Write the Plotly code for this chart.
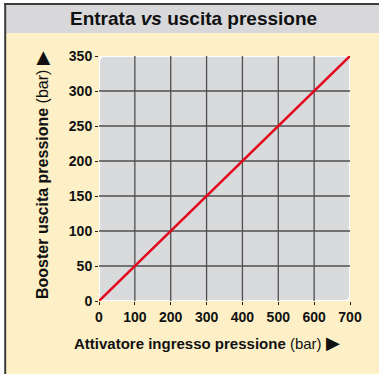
import plotly.graph_objects as go

# Input vs output pressure of the booster (bar)
ingresso = [0, 700]
uscita = [0, 350]

x_ticks = [0, 100, 200, 300, 400, 500, 600, 700]
y_ticks = [0, 50, 100, 150, 200, 250, 300, 350]
x_grid = [100, 200, 300, 400, 500, 600]
y_grid = [50, 100, 150, 200, 250, 300]

W, H = 379, 374
ML, MR, MT, MB = 99, 29, 56, 73
PW, PH = W - ML - MR, H - MT - MB

FONT = "Liberation Sans, Arial, sans-serif"
CREAM = "#fdf0c6"
BAND = "#d8d8da"
FRAME = "#3c3c3c"
PLOT_FILL = "#d9dadc"
GRID = "#4f4f4f"
RED = "#e3061d"


def px(x):
    return (x - ML) / PW


def py(y):
    return (H - MB - y) / PH


fig = go.Figure()
fig.add_trace(go.Scatter(
    x=ingresso, y=uscita, mode="lines",
    line=dict(color=RED, width=2.5), hoverinfo="skip", showlegend=False,
))

shapes = []
# white margin, title band and frame lines
shapes.append(dict(type="rect", xref="paper", yref="paper", layer="below",
                   x0=px(0), x1=px(W), y0=py(0), y1=py(3.5),
                   fillcolor="white", line=dict(width=0)))
shapes.append(dict(type="rect", xref="paper", yref="paper", layer="below",
                   x0=px(0), x1=px(4.5), y0=py(0), y1=py(H),
                   fillcolor="white", line=dict(width=0)))
shapes.append(dict(type="rect", xref="paper", yref="paper", layer="below",
                   x0=px(5), x1=px(W), y0=py(4), y1=py(33),
                   fillcolor=BAND, line=dict(width=0)))
shapes.append(dict(type="line", xref="paper", yref="paper",
                   x0=px(4), x1=px(W), y0=py(4), y1=py(4),
                   line=dict(color=FRAME, width=2)))
shapes.append(dict(type="line", xref="paper", yref="paper",
                   x0=px(5.2), x1=px(5.2), y0=py(3), y1=py(H),
                   line=dict(color=FRAME, width=2)))

# rounded grey plotting panel with white rim
rx, ry = 16, 8
x0, x1, y0, y1 = ingresso[0], ingresso[-1], uscita[0], uscita[-1]
path = (f"M {x0 + rx},{y0} L {x1 - rx},{y0} Q {x1},{y0} {x1},{y0 + ry} "
        f"L {x1},{y1 - ry} Q {x1},{y1} {x1 - rx},{y1} "
        f"L {x0 + rx},{y1} Q {x0},{y1} {x0},{y1 - ry} "
        f"L {x0},{y0 + ry} Q {x0},{y0} {x0 + rx},{y0} Z")
shapes.append(dict(type="path", xref="x", yref="y", layer="below", path=path,
                   fillcolor=PLOT_FILL, line=dict(color="white", width=2.2)))

# grid lines
for v in x_grid:
    shapes.append(dict(type="line", xref="x", yref="y", layer="below",
                       x0=v, x1=v, y0=0, y1=350,
                       line=dict(color=GRID, width=1.3)))
for v in y_grid:
    shapes.append(dict(type="line", xref="x", yref="y", layer="below",
                       x0=0, x1=700, y0=v, y1=v,
                       line=dict(color=GRID, width=1.3)))

# the y title is rotated -90°, so a right-pointing arrow ends up pointing up
annotations = [
    dict(text="<b>Entrata <i>vs</i> uscita pressione</b>", xref="paper", yref="paper",
         x=px(193), y=py(18.5), xanchor="center", yanchor="middle", showarrow=False,
         font=dict(family=FONT, size=19, color="#111")),
    dict(text="<b>Booster uscita pressione</b> (bar) <span style='font-size:18px'>▶</span>",
         xref="paper", yref="paper",
         x=px(42), y=py(175), xanchor="center", yanchor="middle", showarrow=False,
         textangle=-90, font=dict(family=FONT, size=16, color="#111")),
    dict(text="<b>Attivatore ingresso pressione</b> (bar) <span style='font-size:18px'>▶</span>",
         xref="paper", yref="paper",
         x=px(207), y=py(343), xanchor="center", yanchor="middle", showarrow=False,
         font=dict(family=FONT, size=15, color="#111")),
]

fig.update_layout(
    width=W, height=H,
    margin=dict(l=ML, r=MR, t=MT, b=MB, pad=0),
    paper_bgcolor=CREAM, plot_bgcolor=CREAM,
    shapes=shapes, annotations=annotations, showlegend=False,
)
tickfont = dict(family=FONT, size=14, color="#111", weight="bold")
fig.update_xaxes(range=[0, 700], tickvals=x_ticks, ticktext=[str(v) for v in x_ticks],
                 showgrid=False, zeroline=False, showline=False,
                 ticks="outside", ticklen=3, tickwidth=1, tickcolor="#222",
                 tickfont=tickfont, fixedrange=True)
fig.update_yaxes(range=[0, 350], tickvals=y_ticks, ticktext=[str(v) for v in y_ticks],
                 showgrid=False, zeroline=False, showline=False,
                 ticks="outside", ticklen=3, tickwidth=1, tickcolor="#222",
                 tickfont=tickfont, fixedrange=True)

fig.write_html("out.html")
